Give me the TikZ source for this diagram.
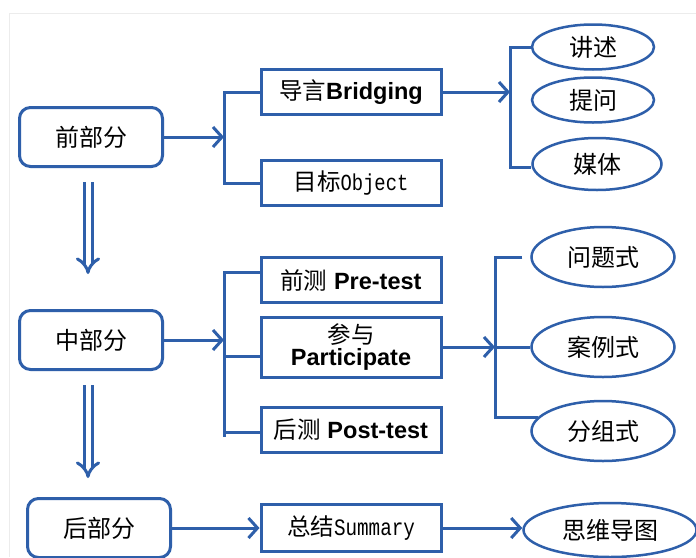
\documentclass[tikz,border=0pt]{standalone}
\usepackage{fontspec}
\setmainfont{Liberation Sans}
\newfontfamily\cjk{Noto Sans CJK SC}
\newfontfamily\mono[FakeStretch=0.82]{Liberation Mono}
\usetikzlibrary{arrows.meta,shapes.geometric,calc}
\definecolor{bl}{RGB}{46,95,170}
\definecolor{frameg}{RGB}{236,236,236}
\tikzset{
  conn/.style={draw=bl, line width=3pt},
  arr/.style={conn, -{Straight Barb[length=9pt,width=20pt,line width=3pt]}},
  dbl/.style={draw=bl, line width=3pt, double=white, double distance=5pt, -{Implies[length=11pt,width=28pt]}},
  part/.style={draw=bl, line width=3pt, rounded corners=11pt, minimum width=143pt, minimum height=59pt, inner sep=0pt, font=\cjk\fontsize{24}{28}\selectfont},
  item/.style={draw=bl, line width=3pt, minimum width=180pt, minimum height=45pt, inner sep=0pt, align=center, font=\fontsize{23.5}{27}\selectfont},
  leaf/.style={draw=bl, line width=2.5pt, ellipse, inner sep=0pt, font=\cjk\fontsize{24}{28}\selectfont},
}
\begin{document}
\begin{tikzpicture}[x=1pt,y=-1pt]
\clip (0,0) rectangle (696,557);
\fill[white] (0,0) rectangle (696,557);
\draw[frameg, line width=1pt] (9,557) -- (9,13) -- (696,13);

% left parts
\node[part] (p1) at (91,137) {前部分};
\node[part] (p2) at (91,340) {中部分};
\node[part] (p3) at (99,528) {后部分};

% middle boxes
\node[item] (intro) at (351,92) {{\cjk 导言}\textbf{Bridging}};
\node[item] (goal) at (351,183) {{\cjk 目标}{\mono\fontsize{23}{26}\selectfont Object}};
\node[item] (pre) at (351,280) {{\cjk 前测} \textbf{Pre-test}};
\node[item, minimum height=60pt] (part) at (351,347) {{\cjk 参与}\\[-5pt]\textbf{Participate}};
\node[item] (post) at (351,430) {{\cjk 后测} \textbf{Post-test}};
\node[item, minimum height=47pt] (sum) at (351,528) {{\cjk 总结}{\mono\fontsize{23.5}{26}\selectfont Summary}};

% leaves
\node[leaf, minimum width=122pt, minimum height=45pt] (t1) at (593,47) {讲述};
\node[leaf, minimum width=122pt, minimum height=45pt] (t2) at (593,100) {提问};
\node[leaf, minimum width=129pt, minimum height=52pt] (t3) at (597,164) {媒体};
\node[leaf, minimum width=143pt, minimum height=60pt] (q1) at (603,257) {问题式};
\node[leaf, minimum width=143pt, minimum height=60pt] (q2) at (603,347) {案例式};
\node[leaf, minimum width=143pt, minimum height=60pt] (q3) at (603,431) {分组式};
\node[leaf, minimum width=173pt, minimum height=54pt] (mind) at (610,530) {思维导图};

% junctions
\coordinate (j1) at (224,137);
\coordinate (j2) at (224,340);
\coordinate (j3) at (510,92);
\coordinate (j4) at (495,347);

% bracket 1
\draw[arr] (p1.east) -- (j1);
\draw[conn] (intro.west) -| (j1);
\draw[conn] (goal.west) -| (j1);

% bracket 2
\draw[arr] (p2.east) -- (j2);
\draw[conn] ($(pre.west)+(0,-8)$) -| (j2);
\draw[conn] ($(part.west)+(0,9)$) -| (j2);
\draw[conn] ($(post.west)+(0,2)$) -| (j2);
\draw[conn] (j2) -- ++(0,97);

% bracket 3
\draw[arr] (intro.east) -- (j3);
\draw[conn] (t1.west) -| (j3);
\draw[conn] ($(t3.west)+(0,3)$) -| (j3);

% bracket 4
\draw[arr] (part.east) -- (j4);
\draw[conn] (j4) -- (q2.west);
\draw[conn] ($(q1.west)+(-8,0)$) -| (j4);
\draw[conn] (q3.168) -| (j4);

% bottom row
\draw[arr] (p3.east) -- (sum.west);
\draw[arr] (sum.east) -- (sum.east -| mind.west);

% double arrows
\draw[dbl] ($(p1.south)+(-3,14)$) -- ($(p1.south)+(-3,106)$);
\draw[dbl] ($(p2.south)+(-3,14)$) -- ($(p2.south)+(-3,107)$);
\end{tikzpicture}
\end{document}
